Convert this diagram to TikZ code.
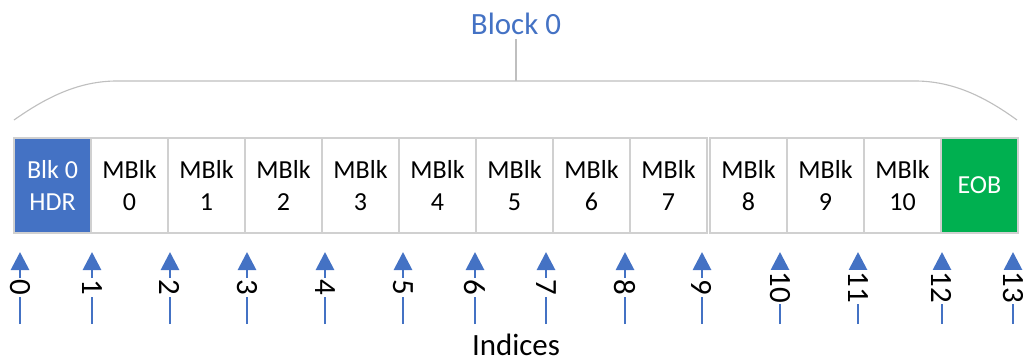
\documentclass[tikz,border=0pt]{standalone}
\usepackage{fontspec}
\setmainfont{Carlito}
\usepackage{tikz}
\usetikzlibrary{arrows.meta, calc, positioning}

\definecolor{hdrblue}{RGB}{68,114,196}
\definecolor{eobgreen}{RGB}{0,176,80}
\definecolor{cellgray}{RGB}{208,208,208}
\definecolor{bracegray}{RGB}{191,191,191}

\begin{document}
\begin{tikzpicture}[>=Stealth,
  cell/.style={draw=cellgray, line width=0.8pt, minimum width=1.925cm, minimum height=2.375cm, align=center, inner sep=0pt, outer sep=0pt, font=\fontsize{18.5}{22.8}\selectfont},
  idx/.style={-{Triangle[length=0.45cm, width=0.45cm]}, line width=2pt, hdrblue},
  idxlabel/.style={fill=white, inner sep=1pt, rotate=-90, text=black, font=\fontsize{22}{24}\selectfont},
  brace/.style={bracegray, line width=0.8pt}]
  \useasboundingbox (0,0) rectangle (25.575,9.05);

  % header, macro blocks 0..7, a small gap, 8..10 and end of block
  \node[cell, fill=hdrblue, text=white] (hdr) at (1.3125,4.4125) {Blk 0\\HDR};
  \foreach \i in {0,...,7} {\node[cell] (mb\i) at ({0.35+1.925*(\i+1.5)},4.4125) {MBlk\\\i};}
  \foreach \i in {8,9,10} {\node[cell] (mb\i) at ({0.425+1.925*(\i+1.5)},4.4125) {MBlk\\\i};}
  \node[cell, fill=eobgreen, text=white] (eob) at (24.4875,4.4125) {EOB};

  % brace over the whole block
  \node[anchor=base, text=hdrblue, font=\fontsize{22}{24}\selectfont] (blk) at (12.9,8.2) {Block 0};
  \coordinate (bmid) at (12.9,7.025);
  \draw[brace] (0.35,6.05) .. controls (1.2,6.65) and (2.0,7.025) .. (2.925,7.025) -- (bmid) -- (22.875,7.025) .. controls (23.8,7.025) and (24.6,6.65) .. (25.425,6.05);
  \draw[brace] (bmid) -- (blk.south);

  % index arrows
  \foreach \i/\x in {0/0.5, 1/2.3, 2/4.25, 3/6.175, 4/8.125, 5/10.075, 6/11.875, 7/13.65, 8/15.625, 9/17.55, 10/19.5, 11/21.45, 12/23.55, 13/25.325} {
    \coordinate (b\i) at (\x,0.95);
    \coordinate (t\i) at (\x,2.75);
    \draw[idx] (b\i) -- node[idxlabel, pos=0.51] {\i} (t\i);
  }
  \node[anchor=base, font=\fontsize{22}{24}\selectfont] (indices) at (12.9,0.175) {Indices};
\end{tikzpicture}
\end{document}
